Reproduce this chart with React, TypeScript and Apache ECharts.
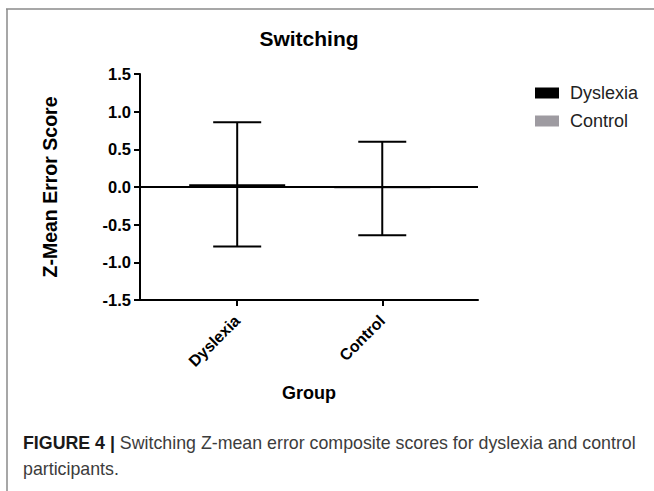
import React, { useEffect, useRef } from "react";
import * as echarts from "echarts";

const categories = ["Dyslexia", "Control"];
const means = [0.035, -0.02];
const upperErr = [0.86, 0.6];
const lowerErr = [-0.79, -0.64];
const seriesColors = ["#000000", "#9e9ba1"];
const yTicks = { min: -1.5, max: 1.5, interval: 0.5 };

const titleText = "Switching";
const yName = "Z-Mean Error Score";
const xName = "Group";
const captionBold = "FIGURE 4 |";
const captionLine1 = " Switching Z-mean error composite scores for dyslexia and control";
const captionLine2 = "participants.";

export default function App() {
  const ref = useRef<HTMLDivElement>(null);
  useEffect(() => {
    if (!ref.current) return;
    const chart = echarts.init(ref.current, null, { renderer: "svg" });
    const font = "Arial, 'Liberation Sans', Helvetica, sans-serif";
    const errData = categories.map((_, i) => [i, lowerErr[i], upperErr[i]]);
    chart.setOption({
      animation: false,
      backgroundColor: "#ffffff",
      textStyle: { fontFamily: font },
      grid: { left: 140, right: 176, top: 74, bottom: 191, containLabel: false },
      legend: {
        orient: "vertical",
        left: 530,
        top: 79,
        itemWidth: 24,
        itemHeight: 11,
        itemGap: 10,
        icon: "rect",
        data: categories,
        textStyle: { fontFamily: font, fontSize: 18, color: "#222", padding: [0, 0, 0, 6] },
      },
      xAxis: {
        type: "value",
        min: -0.67,
        max: 1.66,
        splitLine: { show: false },
        axisLine: { show: true, onZero: false, lineStyle: { color: "#000", width: 2 } },
        axisTick: { show: true, customValues: [0, 1], length: 6, lineStyle: { color: "#000", width: 2 } },
        axisLabel: {
          customValues: [0, 1],
          rotate: 45,
          margin: 18,
          fontFamily: font,
          fontWeight: "bold",
          fontSize: 16,
          color: "#000",
          formatter: (v: number) => categories[Math.round(v)] ?? "",
        },
        name: xName,
        nameLocation: "middle",
        nameGap: 84,
        nameTextStyle: { fontFamily: font, fontWeight: "bold", fontSize: 18, color: "#000" },
      },
      yAxis: {
        type: "value",
        min: yTicks.min,
        max: yTicks.max,
        interval: yTicks.interval,
        splitLine: { show: false },
        axisLine: { show: true, onZero: false, lineStyle: { color: "#000", width: 2 } },
        axisTick: { show: true, length: 6, lineStyle: { color: "#000", width: 2 } },
        axisLabel: {
          margin: 9,
          fontFamily: font,
          fontWeight: "bold",
          fontSize: 16.5,
          color: "#000",
          formatter: (v: number) => v.toFixed(1),
        },
        name: yName,
        nameLocation: "middle",
        nameRotate: 90,
        nameGap: 80,
        nameTextStyle: { fontFamily: font, fontWeight: "bold", fontSize: 19.5, color: "#000" },
      },
      series: [
        {
          name: categories[0],
          type: "bar",
          data: [[0, means[0]]],
          barWidth: 96,
          barGap: "-100%",
          itemStyle: { color: seriesColors[0] },
          markLine: {
            silent: true,
            symbol: "none",
            label: { show: false },
            lineStyle: { color: "#000", width: 2, type: "solid" },
            data: [{ yAxis: 0 }],
          },
        },
        {
          name: categories[1],
          type: "bar",
          data: [[1, means[1]]],
          barWidth: 96,
          barGap: "-100%",
          itemStyle: { color: seriesColors[1] },
        },
        {
          name: "error",
          type: "custom",
          data: errData,
          encode: { x: 0, y: [1, 2] },
          z: 5,
          renderItem: (params: any, api: any) => {
            const x = api.value(0);
            const lo = api.coord([x, api.value(1)]);
            const hi = api.coord([x, api.value(2)]);
            const half = 24;
            const style = { stroke: "#000", lineWidth: 2 };
            return {
              type: "group",
              children: [
                { type: "line", shape: { x1: hi[0], y1: hi[1], x2: lo[0], y2: lo[1] }, style },
                { type: "line", shape: { x1: hi[0] - half, y1: hi[1], x2: hi[0] + half, y2: hi[1] }, style },
                { type: "line", shape: { x1: lo[0] - half, y1: lo[1], x2: lo[0] + half, y2: lo[1] }, style },
              ],
            };
          },
        },
      ],
      graphic: [
        { type: "line", shape: { x1: 6, y1: 9, x2: 654, y2: 9 }, style: { stroke: "#8a8a8a", lineWidth: 1.5 } },
        { type: "line", shape: { x1: 7, y1: 9, x2: 7, y2: 491 }, style: { stroke: "#8a8a8a", lineWidth: 1.5 } },
        {
          type: "text",
          x: 309,
          y: 38,
          style: {
            text: titleText,
            fontFamily: font,
            fontWeight: "bold",
            fontSize: 21,
            fill: "#000",
            textAlign: "center",
            textVerticalAlign: "middle",
          },
        },
        {
          type: "text",
          x: 23,
          y: 443,
          style: {
            text: "{b|" + captionBold + "}" + captionLine1,
            fontFamily: font,
            fontSize: 17.8,
            fill: "#3c3c3c",
            textVerticalAlign: "middle",
            rich: { b: { fontFamily: font, fontSize: 17.8, fontWeight: "bold", fill: "#1a1a1a" } },
          },
        },
        {
          type: "text",
          x: 23,
          y: 469,
          style: {
            text: captionLine2,
            fontFamily: font,
            fontSize: 17.8,
            fill: "#3c3c3c",
            textVerticalAlign: "middle",
          },
        },
      ],
    });
    return () => chart.dispose();
  }, []);
  return (
    <div
      ref={ref}
      style={{ position: "fixed", left: 0, top: 0, width: 654, height: 491, background: "#fff" }}
    />
  );
}
